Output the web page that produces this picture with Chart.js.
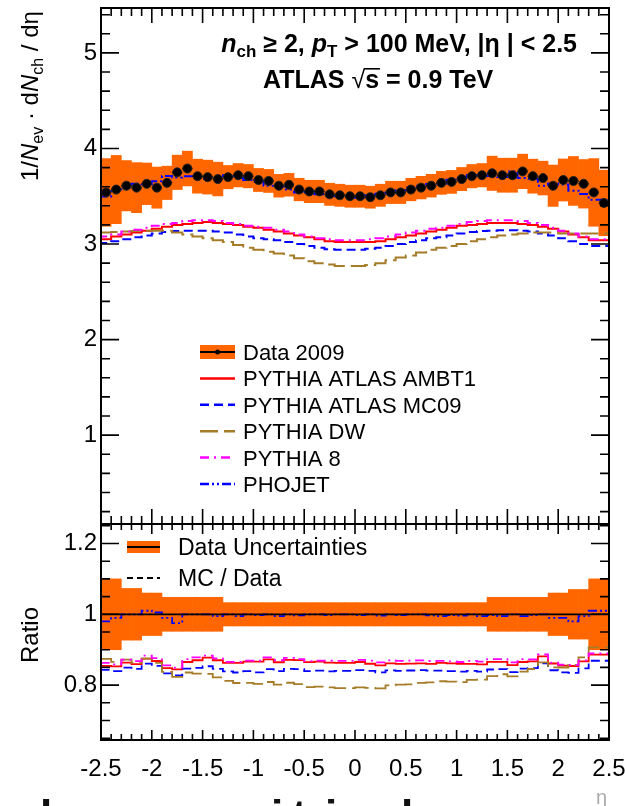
<!DOCTYPE html>
<html>
<head>
<meta charset="utf-8">
<script src="https://cdn.jsdelivr.net/npm/chart.js@4.4.1/dist/chart.umd.min.js"></script>
<style>
  body { margin: 0; background: #fff; width: 625px; height: 806px; overflow: hidden; position: relative; }
  canvas { position: absolute; left: 0; }
  #mainChart { top: 0; }
  #ratioChart { top: 518px; }
</style>
</head>
<body>
<canvas id="mainChart" width="625" height="540"></canvas>
<canvas id="ratioChart" width="625" height="288"></canvas>
<script>
// eta bins (centres), 0.1 wide
const etaBins = [
  -2.45, -2.35, -2.25, -2.15, -2.05, -1.95, -1.85, -1.75, -1.65, -1.55,
  -1.45, -1.35, -1.25, -1.15, -1.05, -0.95, -0.85, -0.75, -0.65, -0.55,
  -0.45, -0.35, -0.25, -0.15, -0.05, 0.05, 0.15, 0.25, 0.35, 0.45,
  0.55, 0.65, 0.75, 0.85, 0.95, 1.05, 1.15, 1.25, 1.35, 1.45,
  1.55, 1.65, 1.75, 1.85, 1.95, 2.05, 2.15, 2.25, 2.35, 2.45
];
const binWidth = 0.1;

const data2009 = [
  3.54, 3.57, 3.61, 3.59, 3.63, 3.59, 3.64, 3.75, 3.79, 3.71,
  3.70, 3.68, 3.70, 3.72, 3.71, 3.67, 3.66, 3.61, 3.62, 3.57,
  3.55, 3.55, 3.52, 3.51, 3.50, 3.50, 3.49, 3.51, 3.54, 3.54,
  3.57, 3.59, 3.61, 3.64, 3.65, 3.68, 3.71, 3.72, 3.74, 3.72,
  3.72, 3.76, 3.71, 3.69, 3.61, 3.67, 3.66, 3.63, 3.54, 3.43
];
// relative total uncertainty of the data
const dataRelErr = [
  0.10, 0.10, 0.073, 0.073, 0.06, 0.06, 0.048, 0.048, 0.048, 0.048,
  0.048, 0.048, 0.033, 0.033, 0.033, 0.033, 0.033, 0.033, 0.033, 0.033,
  0.033, 0.033, 0.033, 0.033, 0.033, 0.033, 0.033, 0.033, 0.033, 0.033,
  0.033, 0.033, 0.033, 0.033, 0.033, 0.033, 0.033, 0.033, 0.048, 0.048,
  0.048, 0.048, 0.048, 0.048, 0.06, 0.06, 0.07, 0.07, 0.10, 0.10
];

const ambt1 = [
  3.02, 3.05, 3.08, 3.10, 3.12, 3.14, 3.16, 3.18, 3.20, 3.21,
  3.22, 3.23, 3.22, 3.21, 3.20, 3.18, 3.17, 3.15, 3.13, 3.11,
  3.09, 3.07, 3.05, 3.03, 3.02, 3.02, 3.02, 3.02, 3.03, 3.05,
  3.07, 3.09, 3.11, 3.13, 3.15, 3.17, 3.19, 3.20, 3.21, 3.22,
  3.22, 3.22, 3.21, 3.20, 3.18, 3.16, 3.13, 3.10, 3.07, 3.04
];
const mc09 = [
  2.98, 3.01, 3.03, 3.05, 3.07, 3.09, 3.11, 3.125, 3.135, 3.14,
  3.14, 3.14, 3.13, 3.12, 3.10, 3.08, 3.06, 3.05, 3.04, 3.02,
  3.00, 2.98, 2.96, 2.945, 2.94, 2.94, 2.94, 2.95, 2.96, 2.98,
  3.00, 3.02, 3.04, 3.06, 3.07, 3.09, 3.11, 3.125, 3.135, 3.14,
  3.145, 3.145, 3.14, 3.13, 3.11, 3.09, 3.06, 3.03, 3.00, 2.98
];
const dw = [
  3.11, 3.12, 3.125, 3.13, 3.135, 3.14, 3.14, 3.14, 3.12, 3.10,
  3.08, 3.06, 3.04, 3.02, 2.99, 2.96, 2.94, 2.92, 2.90, 2.88,
  2.85, 2.82, 2.80, 2.785, 2.77, 2.77, 2.77, 2.78, 2.80, 2.83,
  2.86, 2.88, 2.91, 2.94, 2.96, 2.98, 3.00, 3.03, 3.05, 3.07,
  3.09, 3.10, 3.11, 3.12, 3.12, 3.12, 3.11, 3.11, 3.11, 3.11
];
const pythia8 = [
  3.05, 3.08, 3.10, 3.13, 3.15, 3.17, 3.19, 3.21, 3.22, 3.24,
  3.25, 3.25, 3.24, 3.22, 3.21, 3.19, 3.18, 3.17, 3.15, 3.13,
  3.10, 3.08, 3.06, 3.05, 3.04, 3.04, 3.04, 3.05, 3.06, 3.08,
  3.10, 3.12, 3.14, 3.16, 3.17, 3.19, 3.21, 3.23, 3.24, 3.25,
  3.25, 3.25, 3.24, 3.22, 3.20, 3.17, 3.14, 3.11, 3.08, 3.05
];
// PHOJET (hidden under the data in the top one)
const phojetRatio = [
  0.98, 0.98, 0.99, 1.00, 1.00, 1.01, 1.005, 0.99, 0.975, 1.00,
  1.00, 1.00, 0.995, 1.00, 0.995, 1.00, 0.998, 1.00, 0.995, 1.00,
  0.997, 1.00, 1.00, 0.998, 1.00, 1.00, 0.998, 1.00, 0.996, 1.00,
  0.998, 1.00, 1.00, 0.997, 0.995, 0.998, 0.996, 1.00, 0.995, 0.998,
  0.995, 1.00, 0.995, 0.998, 1.00, 0.99, 0.99, 0.98, 0.995, 1.01
];
const unity = [1, 1];

const etaTicks = [-2.5, -2, -1.5, -1, -0.5, 0, 0.5, 1, 1.5, 2, 2.5];
const mainTicks = [1, 2, 3, 4, 5];
const ratioTicks = [0.8, 1, 1.2];

const FONT = '"Liberation Sans", Arial, Helvetica, sans-serif';
const ORANGE = '#ff6600';

const phojet = data2009.map((v, i) => v * phojetRatio[i]);

const mcModels = [
  { label: 'PYTHIA ATLAS AMBT1', values: ambt1, color: '#ff0000', dash: [] },
  { label: 'PYTHIA ATLAS MC09', values: mc09, color: '#0000ff', dash: [9, 5] },
  { label: 'PYTHIA DW', values: dw, color: '#a67c28', dash: [18, 6] },
  { label: 'PYTHIA 8', values: pythia8, color: '#ff00ff', dash: [9, 5, 2, 5] },
  { label: 'PHOJET', values: phojet, color: '#0000ff', dash: [9, 3, 2, 3, 2, 3] }
];

// histogram outline: one point per lower bin edge plus the last upper edge
function histPoints(values) {
  const pts = values.map((v, i) => ({ x: etaBins[i] - binWidth / 2, y: v }));
  pts.push({ x: etaBins[etaBins.length - 1] + binWidth / 2, y: values[values.length - 1] });
  return pts;
}

// horizontal bin-width bars of the data points
function xErrorPoints(values) {
  const pts = [];
  values.forEach((v, i) => {
    pts.push({ x: etaBins[i] - binWidth / 2, y: v });
    pts.push({ x: etaBins[i] + binWidth / 2, y: v });
    pts.push({ x: etaBins[i] + binWidth / 2, y: null });
  });
  return pts;
}

function bandBars(values, rel) {
  return values.map((v, i) => ({ x: etaBins[i], y: [v * (1 - rel[i]), v * (1 + rel[i])] }));
}

function drawRuns(ctx, x, y, runs, align) {
  let total = 0;
  runs.forEach(r => { ctx.font = r.font; total += ctx.measureText(r.text).width; });
  if (align === 'right') x -= total;
  runs.forEach(r => {
    ctx.font = r.font;
    ctx.fillText(r.text, x, y + (r.dy || 0));
    const w = ctx.measureText(r.text).width;
    if (r.over) ctx.fillRect(x - 1, y - r.over, w + 2, 1.6);
    x += w;
  });
}

// ROOT-like frame with inward ticks on all four sides
const framePlugin = {
  id: 'frame',
  afterDraw(chart, args, o) {
    const { ctx, chartArea: a } = chart;
    const x = chart.scales.x, y = chart.scales.y;
    ctx.save();
    ctx.strokeStyle = '#000';
    ctx.lineWidth = 1.6;
    ctx.beginPath();
    for (let k = Math.ceil(x.min / o.xMinor - 1e-6); k * o.xMinor <= x.max + 1e-6; k++) {
      const v = k * o.xMinor;
      const px = x.getPixelForValue(v);
      const major = Math.abs(v / o.xMajor - Math.round(v / o.xMajor)) < 1e-6;
      const len = major ? o.xMajLen : o.xMinLen;
      ctx.moveTo(px, a.bottom); ctx.lineTo(px, a.bottom - len);
      ctx.moveTo(px, a.top); ctx.lineTo(px, a.top + len);
    }
    for (let k = Math.ceil(y.min / o.yMinor - 1e-6); k * o.yMinor <= y.max + 1e-6; k++) {
      const v = k * o.yMinor;
      const py = y.getPixelForValue(v);
      const major = Math.abs(v / o.yMajor - Math.round(v / o.yMajor)) < 1e-6;
      const len = major ? o.yMajLen : o.yMinLen;
      ctx.moveTo(a.left, py); ctx.lineTo(a.left + len, py);
      ctx.moveTo(a.right, py); ctx.lineTo(a.right - len, py);
    }
    ctx.stroke();
    ctx.lineWidth = 2;
    ctx.strokeRect(a.left, a.top, a.right - a.left, a.bottom - a.top);
    ctx.restore();
  }
};

const mainTextPlugin = {
  id: 'mainText',
  afterDraw(chart) {
    const ctx = chart.ctx;
    const B = 'bold 25px ' + FONT, BI = 'italic bold 25px ' + FONT, S = 'bold 17px ' + FONT;
    ctx.save();
    ctx.fillStyle = '#000';
    ctx.textBaseline = 'alphabetic';
    drawRuns(ctx, 577, 52, [
      { text: 'n', font: BI }, { text: 'ch', font: S, dy: 5 }, { text: ' \u2265 2, ', font: B },
      { text: 'p', font: BI }, { text: 'T', font: S, dy: 5 }, { text: ' > 100 MeV, |\u03b7 | < 2.5', font: B }
    ], 'right');
    drawRuns(ctx, 263, 88, [
      { text: 'ATLAS ', font: B }, { text: '\u221a', font: '25px ' + FONT },
      { text: 's', font: B, over: 20 }, { text: ' = 0.9 TeV', font: B }
    ]);

    // y axis title, read bottom to top
    ctx.save();
    ctx.translate(38, 181);
    ctx.rotate(-Math.PI / 2);
    const R = '24px ' + FONT, RI = 'italic 24px ' + FONT, s = '16px ' + FONT;
    drawRuns(ctx, 0, 0, [
      { text: '1/', font: R }, { text: 'N', font: RI }, { text: 'ev', font: s, dy: 5 },
      { text: ' \u00b7 d', font: R }, { text: 'N', font: RI }, { text: 'ch', font: s, dy: 5 },
      { text: ' / d\u03b7', font: R }
    ]);
    ctx.restore();

    // legend
    ctx.font = '22px ' + FONT;
    const x0 = 200, x1 = 235, tx = 243;
    let yy = 352;
    ctx.fillStyle = ORANGE;
    ctx.fillRect(x0, yy - 7, x1 - x0, 14);
    ctx.strokeStyle = '#000';
    ctx.lineWidth = 2;
    ctx.beginPath(); ctx.moveTo(x0, yy); ctx.lineTo(x1, yy); ctx.stroke();
    ctx.fillStyle = '#000';
    ctx.beginPath(); ctx.arc((x0 + x1) / 2, yy, 2.5, 0, Math.PI * 2); ctx.fill();
    ctx.fillText('Data 2009', tx, yy + 8);
    mcModels.forEach((m, i) => {
      yy = 352 + (i + 1) * 26.4;
      ctx.strokeStyle = m.color;
      ctx.lineWidth = 2.5;
      ctx.setLineDash(m.dash);
      ctx.beginPath(); ctx.moveTo(x0, yy); ctx.lineTo(x1, yy); ctx.stroke();
      ctx.setLineDash([]);
      ctx.fillStyle = '#000';
      ctx.fillText(m.label, tx, yy + 8);
    });
    ctx.restore();
  }
};

const ratioTextPlugin = {
  id: 'ratioText',
  afterDraw(chart) {
    const ctx = chart.ctx;
    ctx.save();
    ctx.fillStyle = '#000';
    ctx.font = '23px ' + FONT;
    // legend
    ctx.fillStyle = ORANGE;
    ctx.fillRect(127, 23, 33, 12);
    ctx.strokeStyle = '#000';
    ctx.lineWidth = 2;
    ctx.beginPath(); ctx.moveTo(127, 29); ctx.lineTo(160, 29); ctx.stroke();
    ctx.setLineDash([6, 4]);
    ctx.beginPath(); ctx.moveTo(127, 60); ctx.lineTo(160, 60); ctx.stroke();
    ctx.setLineDash([]);
    ctx.fillStyle = '#000';
    ctx.fillText('Data Uncertainties', 178, 37);
    ctx.fillText('MC / Data', 178, 68);

    ctx.save();
    ctx.translate(38, 117);
    ctx.rotate(-Math.PI / 2);
    ctx.font = '24px ' + FONT;
    ctx.textAlign = 'center';
    ctx.fillText('Ratio', 0, 0);
    ctx.restore();

    ctx.fillStyle = '#aaa';
    ctx.font = '20px ' + FONT;
    ctx.fillText('\u03b7', 596, 286);

    // top of the caption text below the figure, cut by the window
    ctx.fillStyle = '#111';
    ctx.font = 'bold 44px ' + FONT;
    [['l', 40], ['i', 271], ['t', 292], ['i', 325], ['l', 401]].forEach(c => ctx.fillText(c[0], c[1], 313));
    ctx.restore();
  }
};

function lineSet(points, color, dash, width, order) {
  return {
    type: 'line', data: points, borderColor: color, borderDash: dash, borderWidth: width,
    pointRadius: 0, stepped: 'after', fill: false, order: order, spanGaps: false
  };
}

function xScale(display) {
  return {
    type: 'linear', min: -2.5, max: 2.5, offset: false, display: display,
    grid: { display: false, drawTicks: false }, border: { display: false },
    afterBuildTicks: s => { s.ticks = etaTicks.map(v => ({ value: v })); },
    afterFit: s => { s.height = display ? 66 : 0; s.paddingLeft = 0; s.paddingRight = 0; },
    ticks: {
      autoSkip: false, maxRotation: 0, padding: 15, color: '#000',
      font: { family: FONT, size: 24 }, callback: v => String(v)
    }
  };
}

function yScale(min, max, tickList) {
  return {
    type: 'linear', min: min, max: max,
    grid: { display: false, drawTicks: false }, border: { display: false },
    afterBuildTicks: s => { s.ticks = tickList.map(v => ({ value: v })); },
    afterFit: s => { s.width = 101; s.paddingTop = 0; s.paddingBottom = 0; },
    ticks: { padding: 4, color: '#000', font: { family: FONT, size: 24 }, callback: v => String(v) }
  };
}

const baseOptions = {
  responsive: false,
  animation: false,
  devicePixelRatio: 1,
  events: []
};

const mainSets = [
  {
    type: 'line', data: etaBins.map((x, i) => ({ x: x, y: data2009[i] })), showLine: false,
    pointRadius: 4.5, pointBackgroundColor: '#000', pointBorderColor: '#222', pointBorderWidth: 1, order: 0
  },
  lineSet(xErrorPoints(data2009), '#000', [], 1.6, 0),
  ...mcModels.map((m, i) => lineSet(histPoints(m.values), m.color, m.dash, 2, 5 - i)),
  {
    type: 'bar', data: bandBars(data2009, dataRelErr), backgroundColor: ORANGE,
    borderWidth: 0, barPercentage: 1, categoryPercentage: 1, order: 10
  }
];

new Chart(document.getElementById('mainChart'), {
  type: 'bar',
  data: { datasets: mainSets },
  options: {
    ...baseOptions,
    layout: { padding: { left: 0, top: 8, right: 16, bottom: 16 } },
    plugins: {
      legend: { display: false }, tooltip: { enabled: false },
      frame: { xMinor: 0.1, xMajor: 0.5, xMajLen: 15, xMinLen: 8, yMinor: 0.2, yMajor: 1, yMajLen: 18, yMinLen: 9 }
    },
    scales: { x: xScale(false), y: yScale(0.07, 5.47, mainTicks) }
  },
  plugins: [framePlugin, mainTextPlugin]
});

const ratioSets = [
  lineSet([{ x: -2.5, y: unity[0] }, { x: 2.5, y: unity[1] }], '#000', [], 1.8, 0),
  ...mcModels.map((m, i) => lineSet(histPoints(m.values.map((v, j) => v / data2009[j])), m.color, m.dash, 1.8, 5 - i)),
  {
    type: 'bar', data: bandBars(data2009.map(v => v / v), dataRelErr),
    backgroundColor: ORANGE, borderWidth: 0, barPercentage: 1, categoryPercentage: 1, order: 10
  }
];

new Chart(document.getElementById('ratioChart'), {
  type: 'bar',
  data: { datasets: ratioSets },
  options: {
    ...baseOptions,
    layout: { padding: { left: 0, top: 6, right: 16, bottom: 0 } },
    plugins: {
      legend: { display: false }, tooltip: { enabled: false },
      frame: { xMinor: 0.1, xMajor: 0.5, xMajLen: 10, xMinLen: 6, yMinor: 0.05, yMajor: 0.2, yMajLen: 18, yMinLen: 9 }
    },
    scales: { x: xScale(true), y: yScale(0.645, 1.255, ratioTicks) }
  },
  plugins: [framePlugin, ratioTextPlugin]
});
</script>
</body>
</html>
